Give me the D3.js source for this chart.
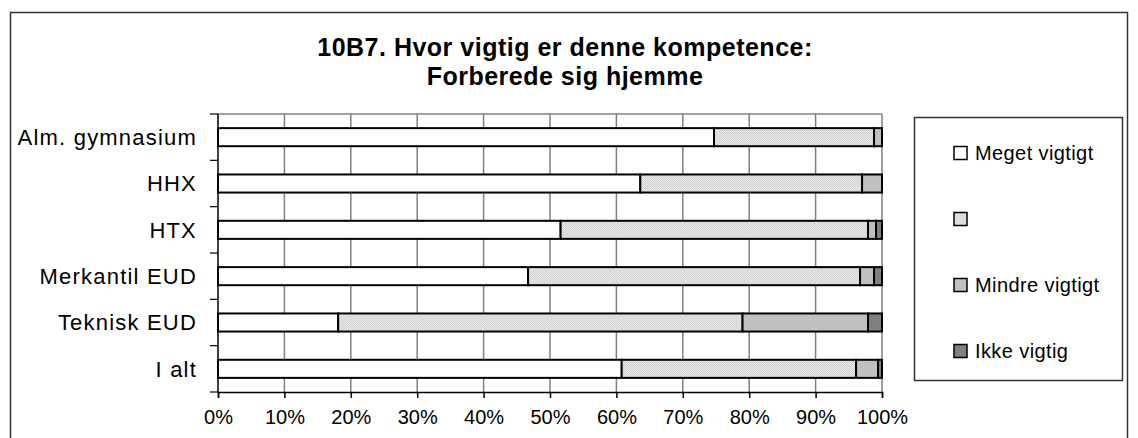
<!DOCTYPE html>
<html>
<head>
<meta charset="utf-8">
<script src="https://cdn.jsdelivr.net/npm/d3@7"></script>
<style>
  html, body { margin: 0; padding: 0; background: #fff; }
  svg { display: block; font-family: "Liberation Sans", Arial, sans-serif; }
</style>
</head>
<body>
<svg id="chart" width="1138" height="438"></svg>
<script>
const titleLines = ["10B7. Hvor vigtig er denne kompetence:", "Forberede sig hjemme"];
const categories = ["Alm. gymnasium", "HHX", "HTX", "Merkantil EUD", "Teknisk EUD", "I alt"];
const seriesNames = ["Meget vigtigt", "", "Mindre vigtigt", "Ikke vigtig"];
const megetVigtigt = [74.7, 63.6, 51.6, 46.7, 18.1, 60.8];
const vigtigt      = [24.1, 33.4, 46.3, 50.0, 60.9, 35.3];
const mindreVigtigt= [1.2, 3.0, 1.2, 2.1, 18.9, 3.3];
const ikkeVigtig   = [0.0, 0.0, 0.9, 1.2, 2.1, 0.6];
const xTicks = [0, 10, 20, 30, 40, 50, 60, 70, 80, 90, 100];

const seriesValues = [megetVigtigt, vigtigt, mindreVigtigt, ikkeVigtig];
const fills = ["#ffffff", "url(#dots)", "#c0c0c0", "#808080"];

const svg = d3.select("#chart");
const defs = svg.append("defs");
const pat = defs.append("pattern").attr("id", "dots").attr("width", 2).attr("height", 2)
  .attr("patternUnits", "userSpaceOnUse");
pat.append("rect").attr("width", 2).attr("height", 2).attr("fill", "#e6e6e6");
pat.append("rect").attr("width", 1).attr("height", 1).attr("fill", "#d4d4d4");
pat.append("rect").attr("x", 1).attr("y", 1).attr("width", 1).attr("height", 1).attr("fill", "#d4d4d4");

// outer frame
svg.append("rect").attr("x", 10.5).attr("y", 12.5).attr("width", 1117).attr("height", 440)
  .attr("fill", "none").attr("stroke", "#333").attr("stroke-width", 1.5);

const pLeft = 218, pRight = 882, pTop = 114, pBottom = 392;
const x = d3.scaleLinear().domain([0, 100]).range([pLeft, pRight]);
const y = d3.scaleBand().domain(categories).range([pTop, pBottom]).paddingInner(0.61).paddingOuter(0.305);
const yb = d3.scaleBand().domain(categories).range([pTop, pBottom]);

// title
svg.append("g").selectAll("text").data(titleLines).join("text")
  .attr("x", 565).attr("y", (d, i) => 56 + i * 29)
  .attr("text-anchor", "middle").attr("font-weight", "bold").attr("font-size", 25)
  .attr("letter-spacing", 0.5)
  .text(d => d);

// gridlines
svg.append("g").selectAll("line").data(xTicks.filter(t => t > 0)).join("line")
  .attr("x1", d => x(d)).attr("x2", d => x(d)).attr("y1", pTop).attr("y2", pBottom)
  .attr("stroke", "#808080").attr("stroke-width", 1.5);
svg.append("line").attr("x1", pLeft).attr("x2", pRight).attr("y1", pTop).attr("y2", pTop)
  .attr("stroke", "#808080").attr("stroke-width", 1.5);

// bars
const stacked = categories.map((c, i) => {
  let acc = 0;
  return seriesValues.map((s, k) => {
    const d = { cat: c, k, x0: acc, x1: acc + s[i] };
    acc += s[i];
    return d;
  });
}).flat().filter(d => d.x1 - d.x0 > 0);

svg.append("g").selectAll("rect").data(stacked).join("rect")
  .attr("x", d => x(d.x0)).attr("width", d => x(d.x1) - x(d.x0))
  .attr("y", d => y(d.cat)).attr("height", y.bandwidth())
  .attr("fill", d => fills[d.k]).attr("stroke", "#000").attr("stroke-width", 2);

// axes
const xAxis = d3.axisBottom(x).tickValues(xTicks).tickFormat(d => d + "%").tickSize(6).tickPadding(12);
const gx = svg.append("g").attr("transform", `translate(0,${pBottom})`).call(xAxis);
gx.select(".domain").attr("stroke", "#000").attr("stroke-width", 1.5);
gx.selectAll(".tick line").attr("stroke", "#000").attr("stroke-width", 1.5);
gx.selectAll(".tick text").attr("font-size", 20).attr("fill", "#000")
  .attr("font-family", "Liberation Sans, Arial, sans-serif").attr("dy", "0.71em");

svg.append("line").attr("x1", pLeft).attr("x2", pLeft).attr("y1", pTop).attr("y2", pBottom)
  .attr("stroke", "#000").attr("stroke-width", 1.5);
const bounds = categories.map(c => yb(c)).concat([pBottom]);
svg.append("g").selectAll("line").data(bounds).join("line")
  .attr("x1", pLeft - 8).attr("x2", pLeft).attr("y1", d => d).attr("y2", d => d)
  .attr("stroke", "#000").attr("stroke-width", 1.2);
svg.append("g").selectAll("text").data(categories).join("text")
  .attr("x", 197).attr("y", d => yb(d) + yb.bandwidth() / 2)
  .attr("dy", "0.36em").attr("text-anchor", "end").attr("font-size", 22)
  .attr("letter-spacing", 1.2).text(d => d);

// legend
const lg = svg.append("g");
lg.append("rect").attr("x", 914.5).attr("y", 117.5).attr("width", 208).attr("height", 263)
  .attr("fill", "#fff").attr("stroke", "#333").attr("stroke-width", 1.5);
const items = lg.selectAll("g.item").data(seriesNames).join("g").attr("class", "item")
  .attr("transform", (d, i) => `translate(954,${153 + i * 66})`);
items.append("rect").attr("x", 0).attr("y", -6.5).attr("width", 13).attr("height", 13)
  .attr("fill", (d, i) => fills[i]).attr("stroke", "#000").attr("stroke-width", 1.5);
items.append("text").attr("x", 21).attr("y", 0).attr("dy", "0.36em").attr("font-size", 20)
  .attr("letter-spacing", 0.4).text(d => d);
</script>
</body>
</html>
